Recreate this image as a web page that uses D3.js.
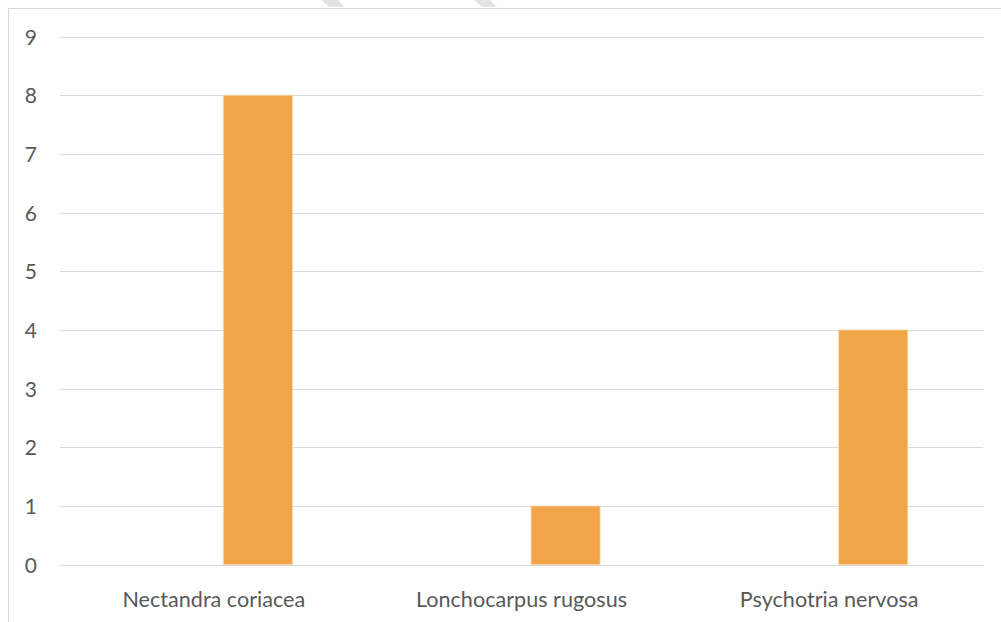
<!DOCTYPE html>
<html>
<head>
<meta charset="utf-8">
<script src="https://cdn.jsdelivr.net/npm/d3@7"></script>
<style>
  html, body { margin: 0; padding: 0; background: #fff; }
  svg { display: block; }
  .tick text { font-family: "Lato", "Open Sans", sans-serif; fill: #595959; }
</style>
</head>
<body>
<svg id="chart" width="1001" height="622"></svg>
<script>
// Species and their counts
const categories = ["Nectandra coriacea", "Lonchocarpus rugosus", "Psychotria nervosa"];
const counts = [8, 1, 4];
const yTicks = [0, 1, 2, 3, 4, 5, 6, 7, 8, 9];

const svg = d3.select("#chart");
const W = 1001, H = 622;
const plot = { left: 60, right: 983, top: 36.5, bottom: 564.7 };

// chart area frame (continues past the right and bottom edges)
svg.append("rect")
  .attr("x", 8.5).attr("y", 8.5)
  .attr("width", W + 20).attr("height", H + 20)
  .attr("fill", "#fff").attr("stroke", "#d9d9d9").attr("stroke-width", 1);

// faint fragments at the top edge
svg.append("g").attr("fill", "#e3e3e3")
  .selectAll("path")
  .data([[322, 0, 338, 0, 344, 7, 329, 7], [474, 0, 490, 0, 497, 7, 482, 7]])
  .join("path")
  .attr("d", p => `M${p[0]},${p[1]}L${p[2]},${p[3]}L${p[4]},${p[5]}L${p[6]},${p[7]}Z`);

const x = d3.scaleBand().domain(categories).range([plot.left, plot.right]).padding(0);
const y = d3.scaleLinear().domain([0, 9]).range([plot.bottom, plot.top]);

// horizontal gridlines
svg.append("g")
  .selectAll("line")
  .data(yTicks)
  .join("line")
  .attr("x1", plot.left).attr("x2", plot.right)
  .attr("y1", d => Math.round(y(d)) + 0.5).attr("y2", d => Math.round(y(d)) + 0.5)
  .attr("stroke", "#d9d9d9").attr("stroke-width", 1);

// bars sit in the right part of each category slot
const barOffset = 0.531, barWidth = 0.2245;
svg.append("g")
  .selectAll("rect")
  .data(categories.map((c, i) => ({ c, v: counts[i] })))
  .join("rect")
  .attr("x", d => x(d.c) + x.bandwidth() * barOffset)
  .attr("width", x.bandwidth() * barWidth)
  .attr("y", d => y(d.v))
  .attr("height", d => y(0) - y(d.v))
  .attr("fill", "#f2a548")
  .attr("stroke", "#fbd9ad").attr("stroke-width", 0.8);

// redraw baseline over bars
svg.append("line")
  .attr("x1", plot.left).attr("x2", plot.right)
  .attr("y1", Math.round(y(0)) + 0.5).attr("y2", Math.round(y(0)) + 0.5)
  .attr("stroke", "#d9d9d9");

// y axis labels
const yAxis = d3.axisLeft(y).tickValues(yTicks).tickSize(0).tickPadding(0).tickFormat(d3.format("d"));
const gy = svg.append("g").attr("transform", "translate(37,0)").call(yAxis);
gy.select(".domain").remove();
gy.selectAll("text").attr("font-size", 21).attr("dy", "0.36em");

// x axis labels
const xAxis = d3.axisBottom(x).tickSize(0).tickPadding(0);
const gx = svg.append("g").attr("transform", `translate(0,${plot.bottom})`).call(xAxis);
gx.select(".domain").remove();
gx.selectAll("text").attr("font-size", 21.6).attr("dy", 0).attr("y", 42);
</script>
</body>
</html>
